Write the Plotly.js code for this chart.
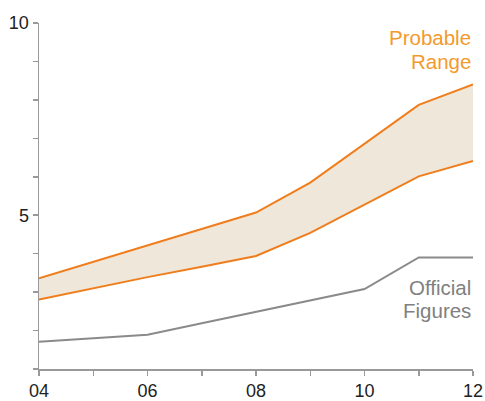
<!DOCTYPE html>
<html>
<head>
<meta charset="utf-8">
<script src="https://cdn.plot.ly/plotly-3.0.1.min.js"></script>
<style>html,body{margin:0;padding:0;background:#fff;}#chart{width:485px;height:401px;}</style>
</head>
<body>
<div id="chart"></div>
<script>
const years = [2004, 2005, 2006, 2007, 2008, 2009, 2010, 2011, 2012];
const xTickLabels = ['04', '', '06', '', '08', '', '10', '', '12'];
const upperRange = [3.36, 3.79, 4.21, 4.64, 5.07, 5.85, 6.86, 7.87, 8.40];
const lowerRange = [2.81, 3.10, 3.39, 3.66, 3.94, 4.54, 5.28, 6.01, 6.41];
const officialFigures = [1.71, 1.80, 1.89, 2.19, 2.49, 2.78, 3.08, 3.90, 3.90];
const yTickVals = [1, 2, 3, 4, 5, 6, 7, 8, 9, 10];
const yTickLabels = ['', '', '', '', '5', '', '', '', '', '10'];
const rangeLabel = ['Probable', 'Range'];
const officialLabel = ['Official', 'Figures'];

const orange = '#f07d1c';
const data = [
  {x: years, y: lowerRange, type: 'scatter', mode: 'lines', line: {color: orange, width: 2}, hoverinfo: 'skip'},
  {x: years, y: upperRange, type: 'scatter', mode: 'lines', line: {color: orange, width: 2}, fill: 'tonexty', fillcolor: '#efe7da', hoverinfo: 'skip'},
  {x: years, y: officialFigures, type: 'scatter', mode: 'lines', line: {color: '#8a8a8a', width: 2}, hoverinfo: 'skip'}
];
function lbl(text, y, color) {
  return {xref: 'paper', yref: 'paper', x: 1.0, y: y, xanchor: 'right', yanchor: 'middle', align: 'right',
          text: text, showarrow: false, font: {size: 20.5, color: color}};
}
const layout = {
  width: 485, height: 401,
  margin: {l: 38.7, r: 12.3, t: 23.3, b: 32},
  paper_bgcolor: '#fff', plot_bgcolor: '#fff',
  showlegend: false,
  font: {family: 'Liberation Sans, Arial, sans-serif', color: '#222'},
  xaxis: {
    range: [2004, 2012], tickvals: years, ticktext: xTickLabels,
    showgrid: false, zeroline: false, showline: true, linecolor: '#999', linewidth: 1.5,
    ticks: 'outside', ticklen: 5, tickcolor: '#999', tickwidth: 1.5,
    tickfont: {size: 18, color: '#222'}, fixedrange: true
  },
  yaxis: {
    range: [1, 10], tickvals: yTickVals, ticktext: yTickLabels,
    showgrid: false, zeroline: false, showline: true, linecolor: '#999', linewidth: 1.5,
    ticks: 'outside', ticklen: 5, tickcolor: '#999', tickwidth: 1.5,
    tickfont: {size: 18, color: '#222'}, fixedrange: true
  },
  annotations: [
    lbl(rangeLabel[0], 0.958, '#f39a2e'),
    lbl(rangeLabel[1], 0.889, '#f39a2e'),
    lbl(officialLabel[0], 0.235, '#808080'),
    lbl(officialLabel[1], 0.170, '#808080')
  ]
};
Plotly.newPlot('chart', data, layout, {displayModeBar: false, staticPlot: true});
</script>
</body>
</html>
